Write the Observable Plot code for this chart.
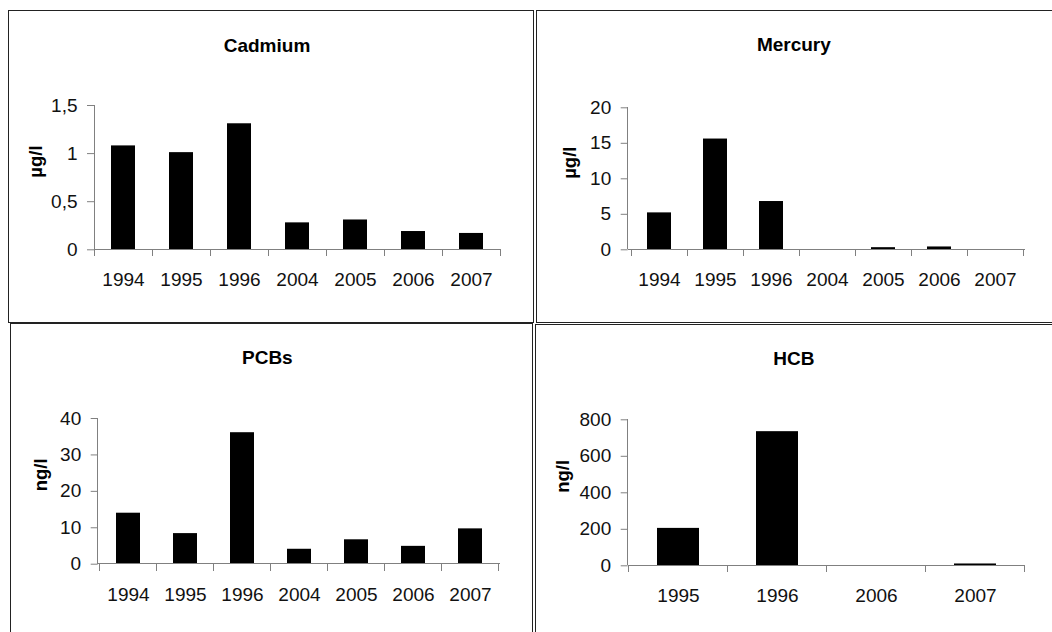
<!DOCTYPE html>
<html>
<head>
<meta charset="utf-8">
<script src="https://cdn.jsdelivr.net/npm/d3@7"></script>
<script src="https://cdn.jsdelivr.net/npm/@observablehq/plot@0.6"></script>
<style>
  html, body { margin: 0; padding: 0; background: #fff; }
  #page { position: relative; width: 1052px; height: 632px; overflow: hidden; background: #fff; font-family: "Liberation Sans", Arial, sans-serif; }
  .box { position: absolute; box-sizing: border-box; border: 1px solid #222; }
  .plot { position: absolute; }
  .plot svg { overflow: visible; }
  [aria-label="y-axis"] line, [aria-label="y-axis tick"] path { stroke: #808080; }
</style>
</head>
<body>
<div id="page"></div>
<script>
// ---- Data ----
const cadmiumYears = ["1994", "1995", "1996", "2004", "2005", "2006", "2007"];
const cadmiumValues = [1.08, 1.01, 1.31, 0.28, 0.31, 0.19, 0.17];
const cadmiumTicks = [0, 0.5, 1, 1.5];

const mercuryYears = ["1994", "1995", "1996", "2004", "2005", "2006", "2007"];
const mercuryValues = [5.2, 15.6, 6.8, 0, 0.3, 0.4, 0];
const mercuryTicks = [0, 5, 10, 15, 20];

const pcbYears = ["1994", "1995", "1996", "2004", "2005", "2006", "2007"];
const pcbValues = [14.0, 8.4, 36.1, 4.1, 6.7, 4.9, 9.7];
const pcbTicks = [0, 10, 20, 30, 40];

const hcbYears = ["1995", "1996", "2006", "2007"];
const hcbValues = [205, 735, 0, 10];
const hcbTicks = [0, 200, 400, 600, 800];

const titles = ["Cadmium", "Mercury", "PCBs", "HCB"];
const units = ["µg/l", "µg/l", "ng/l", "ng/l"];

// ---- Style ----
const AXIS = "#808080";
const commaFormat = d => String(d).replace(".", ",");

function axisLines(years) {
  return function (index, scales) {
    const x = scales.x, y = scales.y;
    const step = x.step(), bw = x.bandwidth();
    const y0 = y(0);
    const yTop = y(y.domain()[1]);
    const [r0, r1] = x.range();
    const bounds = years.map(d => x(d) - (step - bw) / 2);
    bounds.push(x(years[years.length - 1]) + bw + (step - bw) / 2);
    const g = d3.create("svg:g").attr("stroke", AXIS).attr("stroke-width", 1).attr("shape-rendering", "crispEdges");
    g.append("line").attr("x1", r0).attr("x2", r1).attr("y1", y0).attr("y2", y0);
    g.append("line").attr("x1", r0).attr("x2", r0).attr("y1", yTop).attr("y2", y0);
    g.selectAll("line.bt").data(bounds).join("line").attr("class", "bt")
      .attr("x1", d => d).attr("x2", d => d).attr("y1", y0).attr("y2", y0 + 7);
    return g.node();
  };
}

function panel(cfg) {
  const data = cfg.years.map((y, i) => ({year: y, value: cfg.values[i]}));
  return Plot.plot({
    width: cfg.width,
    height: cfg.height,
    marginLeft: cfg.mL,
    marginRight: cfg.mR,
    marginTop: cfg.mT,
    marginBottom: cfg.mB,
    style: {fontFamily: "'Liberation Sans', Arial, sans-serif", fontSize: "19px", color: "#111", background: "transparent", overflow: "visible"},
    x: {domain: cfg.years, type: "band", paddingInner: 0.58, paddingOuter: 0.29, tickSize: 0, tickPadding: 23, label: null},
    y: {domain: [cfg.ticks[0], cfg.ticks[cfg.ticks.length - 1]], ticks: cfg.ticks, tickFormat: cfg.fmt || (d => String(d)), tickSize: 7, tickPadding: 10, label: null},
    marks: [
      Plot.barY(data, {x: "year", y: "value", fill: "#000"}),
      axisLines(cfg.years),
      Plot.text([cfg.title], {frameAnchor: "top", dy: cfg.titleDy, dx: cfg.titleDx, text: d => d, fontWeight: "bold", fontSize: 19, lineAnchor: "middle", fill: "#000"}),
      Plot.text([cfg.unit], {frameAnchor: "left", dx: -cfg.labelOffset, text: d => d, rotate: -90, fontWeight: "bold", fontSize: 18.5, lineAnchor: "middle", fill: "#000"})
    ]
  });
}

const page = document.getElementById("page");

// panel borders
[[8, 10, 526, 313], [536, 10, 530, 313], [10, 323, 523, 330], [535, 324, 530, 330]].forEach(([l, t, w, h]) => {
  const b = document.createElement("div");
  b.className = "box";
  b.style.left = l + "px"; b.style.top = t + "px"; b.style.width = w + "px"; b.style.height = h + "px";
  page.appendChild(b);
});

const configs = [
  {left: 8, top: 10, width: 526, height: 313, mL: 86, mR: 33, mT: 95, mB: 73.7,
   years: cadmiumYears, values: cadmiumValues, ticks: cadmiumTicks, fmt: commaFormat,
   title: titles[0], unit: units[0], titleDy: -60, titleDx: -31, labelOffset: 58.5},
  {left: 536, top: 10, width: 516, height: 313, mL: 91.7, mR: 27, mT: 97.3, mB: 73.7,
   years: mercuryYears, values: mercuryValues, ticks: mercuryTicks,
   title: titles[1], unit: units[1], titleDy: -63, titleDx: -33, labelOffset: 57.7},
  {left: 10, top: 323, width: 523, height: 309, mL: 87.7, mR: 33, mT: 95, mB: 68.3,
   years: pcbYears, values: pcbValues, ticks: pcbTicks,
   title: titles[2], unit: units[2], titleDy: -61, titleDx: -32, labelOffset: 57},
  {left: 535, top: 324, width: 517, height: 308, mL: 92.7, mR: 27, mT: 95.3, mB: 66.7,
   years: hcbYears, values: hcbValues, ticks: hcbTicks,
   title: titles[3], unit: units[3], titleDy: -61, titleDx: -33, labelOffset: 65}
];

configs.forEach(cfg => {
  const wrap = document.createElement("div");
  wrap.className = "plot";
  wrap.style.left = cfg.left + "px";
  wrap.style.top = cfg.top + "px";
  wrap.appendChild(panel(cfg));
  page.appendChild(wrap);
});
</script>
</body>
</html>
